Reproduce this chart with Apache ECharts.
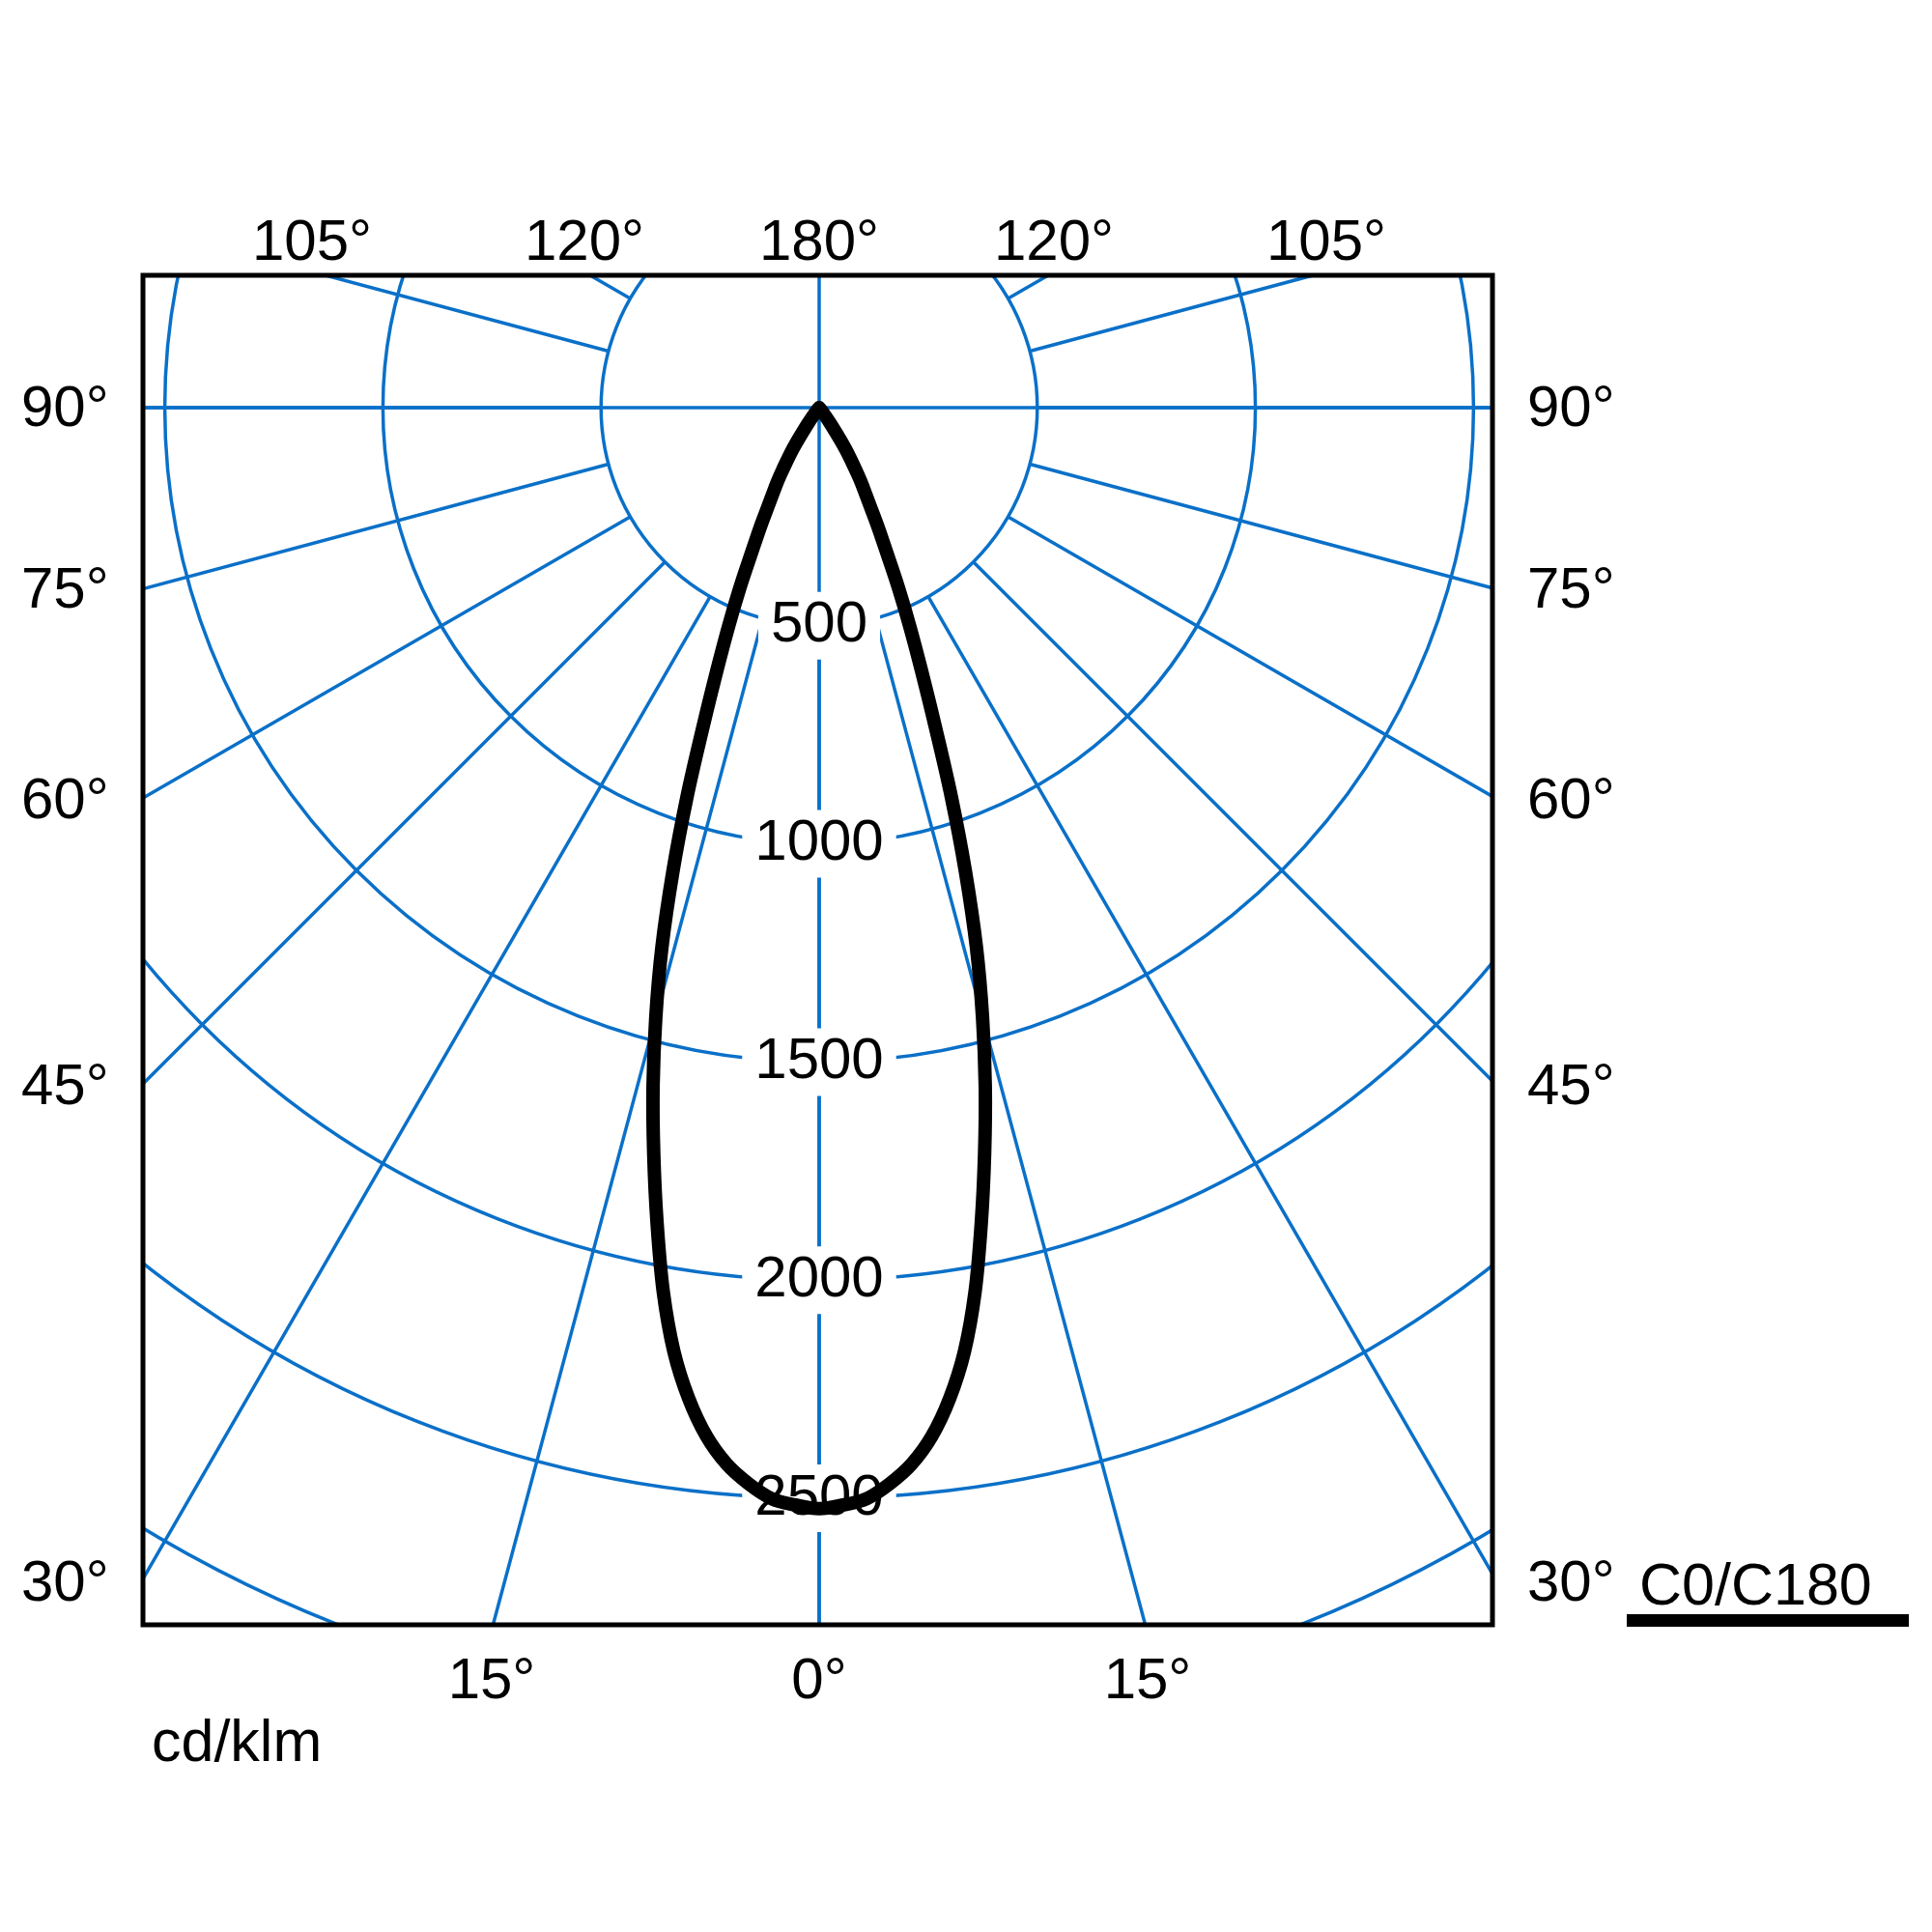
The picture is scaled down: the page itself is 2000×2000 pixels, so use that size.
<!DOCTYPE html>
<html>
<head>
<meta charset="utf-8">
<script src="https://cdn.jsdelivr.net/npm/echarts@6.0.0/dist/echarts.min.js"></script>
<style>html,body{margin:0;padding:0;background:#fff}#chart{width:2000px;height:2000px}</style>
</head>
<body>
<div id="chart"></div>
<script>
// ---- data ----
const gammaDeg      = [0, 1.25, 2.5, 3.75, 5, 6.25, 7.5, 8.75, 10, 11.25, 12.5, 13.75, 15, 16.25, 17.5, 18.75, 20, 21.25, 22.5, 23.75, 25, 26.25, 27.5, 28.75, 30, 32.5, 35, 37.5, 40];
const intensityC0   = [2524, 2516, 2503, 2472, 2431, 2372, 2291, 2189, 2058, 1905, 1752, 1602, 1447, 1288, 1115, 943, 778, 648, 543, 451, 366, 305, 250, 212, 178, 112, 48, 12, 0];
const intensityC180 = [2524, 2516, 2503, 2472, 2431, 2372, 2291, 2189, 2058, 1905, 1752, 1602, 1447, 1288, 1115, 943, 778, 648, 543, 451, 366, 305, 250, 212, 178, 112, 48, 12, 0];
const radialTicks   = [500, 1000, 1500, 2000, 2500];
const topLabels     = ['105°', '120°', '180°', '120°', '105°'];
const sideLabels    = ['90°', '75°', '60°', '45°', '30°'];
const bottomLabels  = ['15°', '0°', '15°'];
const unitLabel     = 'cd/klm';
const planeLabel    = 'C0/C180';

// ---- layout / style ----
const BLUE = '#0a70c8';
const FONT = '"Liberation Sans", Arial, Helvetica, sans-serif';
const CX = 848, CY = 422, R500 = 225.8;
const BOX = {x: 148, y: 285, w: 1397, h: 1397};

// curve: C180 half on the left (angle = gamma), C0 half on the right (angle = 360 - gamma)
const curve = [];
for (let i = gammaDeg.length - 1; i >= 0; i--) curve.push([intensityC180[i], gammaDeg[i]]);
for (let i = 1; i < gammaDeg.length; i++) curve.push([intensityC0[i], 360 - gammaDeg[i]]);

// smooth (Catmull-Rom) path through the points placed by the polar coordinate system
function renderCurve(params, api) {
  if (params.dataIndex !== 0) return null;
  const pts = curve.map(p => api.coord(p));
  const n = pts.length;
  let d = 'M' + pts[0][0] + ' ' + pts[0][1];
  for (let i = 0; i < n - 1; i++) {
    const p0 = pts[Math.max(i - 1, 0)], p1 = pts[i], p2 = pts[i + 1], p3 = pts[Math.min(i + 2, n - 1)];
    const c1x = p1[0] + (p2[0] - p0[0]) / 6, c1y = p1[1] + (p2[1] - p0[1]) / 6;
    const c2x = p2[0] - (p3[0] - p1[0]) / 6, c2y = p2[1] - (p3[1] - p1[1]) / 6;
    d += ' C' + c1x + ' ' + c1y + ' ' + c2x + ' ' + c2y + ' ' + p2[0] + ' ' + p2[1];
  }
  return {
    type: 'path',
    shape: {pathData: d},
    style: {fill: null, stroke: '#000', lineWidth: 14, lineJoin: 'round', lineCap: 'round'}
  };
}

const txt = (text, x, y, align, size) => ({
  type: 'text', x: x, y: y, z: 101, silent: true,
  style: {text: text, fill: '#000', fontSize: size || 60, fontFamily: FONT,
          align: align, verticalAlign: 'middle', textAlign: align, textVerticalAlign: 'middle'}
});

const topX = [323, 605, 848, 1091, 1373];
const sideY = [424, 612, 830, 1126, 1640];
const bottomX = [509, 848, 1188];

const graphics = [
  {type: 'rect', z: 100, silent: true, shape: {x: 0, y: 0, width: 2000, height: BOX.y}, style: {fill: '#fff'}},
  {type: 'rect', z: 100, silent: true, shape: {x: 0, y: 0, width: BOX.x, height: 2000}, style: {fill: '#fff'}},
  {type: 'rect', z: 100, silent: true, shape: {x: BOX.x + BOX.w, y: 0, width: 2000, height: 2000}, style: {fill: '#fff'}},
  {type: 'rect', z: 100, silent: true, shape: {x: 0, y: BOX.y + BOX.h, width: 2000, height: 2000}, style: {fill: '#fff'}},
  {type: 'rect', z: 101, silent: true, shape: {x: BOX.x, y: BOX.y, width: BOX.w, height: BOX.h},
   style: {fill: 'none', stroke: '#000', lineWidth: 5}},
  {type: 'rect', z: 101, silent: true, shape: {x: 1684, y: 1671, width: 292, height: 13}, style: {fill: '#000'}}
];
topLabels.forEach((t, i) => graphics.push(txt(t, topX[i], 252, 'center')));
sideLabels.forEach((t, i) => {
  graphics.push(txt(t, 22, sideY[i], 'left'));
  graphics.push(txt(t, 1581, sideY[i], 'left'));
});
bottomLabels.forEach((t, i) => graphics.push(txt(t, bottomX[i], 1741, 'center')));
graphics.push(txt(unitLabel, 157, 1806, 'left', 61));
graphics.push(txt(planeLabel, 1697, 1644, 'left', 61));

const hiddenAxis = {axisLine: {show: false}, axisTick: {show: false}, axisLabel: {show: false}};

const chart = echarts.init(document.getElementById('chart'), null, {renderer: 'canvas'});
chart.setOption({
  animation: false,
  backgroundColor: '#fff',
  polar: [
    {center: [CX, CY], radius: [R500, R500 * 7]},   // grid: radial lines start at the 500 circle
    {center: [CX, CY], radius: [0, R500 * 7]}       // data
  ],
  angleAxis: [
    Object.assign({polarIndex: 0, type: 'value', min: 0, max: 360, interval: 15, startAngle: 270, clockwise: true,
      splitLine: {show: true, lineStyle: {color: BLUE, width: 3.5}}}, hiddenAxis),
    Object.assign({polarIndex: 1, type: 'value', min: 0, max: 360, interval: 15, startAngle: 270, clockwise: true,
      splitLine: {show: false}}, hiddenAxis)
  ],
  radiusAxis: [
    Object.assign({polarIndex: 0, type: 'value', min: 500, max: 3500, interval: 500,
      splitLine: {show: true, lineStyle: {color: BLUE, width: 3.5}}}, hiddenAxis),
    Object.assign({polarIndex: 1, type: 'value', min: 0, max: 3500, interval: 500,
      splitLine: {show: false}}, hiddenAxis)
  ],
  series: [
    {type: 'line', coordinateSystem: 'polar', polarIndex: 1, silent: true, z: 2, symbol: 'none',
     data: [[3500, 90], [3500, 270]], lineStyle: {color: BLUE, width: 3.5}},
    {type: 'line', coordinateSystem: 'polar', polarIndex: 1, silent: true, z: 2, symbol: 'none',
     data: [[3500, 0], [3500, 180]], lineStyle: {color: BLUE, width: 3.5}},
    {type: 'scatter', coordinateSystem: 'polar', polarIndex: 1, silent: true, z: 3, symbolSize: 1,
     itemStyle: {color: '#fff', opacity: 1},
     data: radialTicks.map(v => [v, 0]),
     label: {show: true, position: 'inside', formatter: p => String(p.value[0]), opacity: 1,
             color: '#000', textBorderWidth: 0, fontSize: 60, fontFamily: FONT,
             backgroundColor: '#fff', padding: [5, 13]}},
    {type: 'custom', coordinateSystem: 'polar', polarIndex: 1, silent: true, z: 4, clip: false,
     data: curve, renderItem: renderCurve}
  ],
  graphic: graphics
});
</script>
</body>
</html>
